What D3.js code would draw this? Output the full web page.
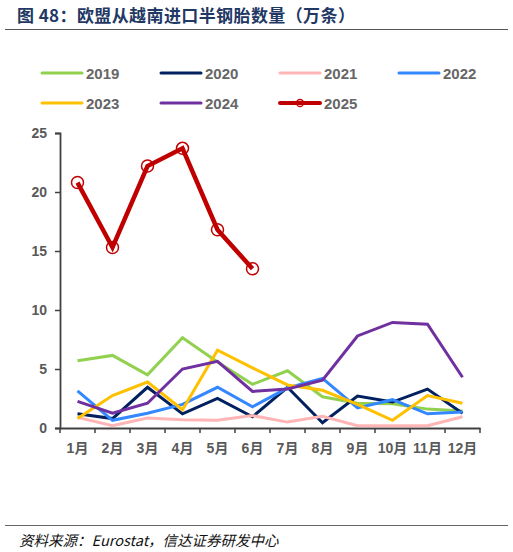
<!DOCTYPE html>
<html>
<head>
<meta charset="utf-8">
<script src="https://cdn.jsdelivr.net/npm/d3@7"></script>
<style>
  body { margin: 0; background: #fff; }
  svg { display: block; font-family: "Liberation Sans", Arial, "Noto Sans CJK SC", sans-serif; }
</style>
</head>
<body>
<svg id="chart" width="513" height="552"></svg>
<script>
// Months and series (万条)
const months = ["1月", "2月", "3月", "4月", "5月", "6月", "7月", "8月", "9月", "10月", "11月", "12月"];
const yTicks = [0, 5, 10, 15, 20, 25];

const s2019 = [5.7, 6.15, 4.5, 7.65, 5.6, 3.7, 4.85, 2.65, 2.1, 2.05, 1.6, 1.45];
const s2020 = [1.2, 0.8, 3.45, 1.2, 2.5, 0.95, 3.45, 0.45, 2.7, 2.2, 3.3, 1.25];
const s2021 = [0.9, 0.2, 0.85, 0.7, 0.65, 1.05, 0.5, 1.0, 0.2, 0.2, 0.2, 0.95];
const s2022 = [3.15, 0.65, 1.25, 2.0, 3.45, 1.8, 3.4, 4.2, 1.7, 2.4, 1.2, 1.35];
const s2023 = [0.8, 2.75, 3.9, 1.55, 6.6, 5.1, 3.65, 3.2, 2.0, 0.65, 2.75, 2.1];
const s2024 = [2.25, 1.25, 2.1, 5.0, 5.65, 3.1, 3.3, 4.05, 7.8, 8.95, 8.8, 4.3];
const s2025 = [20.8, 15.3, 22.2, 23.7, 16.8, 13.5];

const seriesNames = ["2019", "2020", "2021", "2022", "2023", "2024", "2025"];
const seriesValues = [s2019, s2020, s2021, s2022, s2023, s2024, s2025];
const seriesColors = ["#92D050", "#002060", "#FFB5B5", "#3388FF", "#FFC000", "#7030A0", "#C00000"];

const svg = d3.select("#chart");
const margin = { top: 133, right: 33, bottom: 124, left: 60 };
const width = 513 - margin.left - margin.right;
const height = 552 - margin.top - margin.bottom;

// Title and rules
svg.append("text")
    .attr("x", 17)
    .attr("y", 22)
    .style("font-family", "'Noto Sans CJK SC', sans-serif")
    .style("font-size", "17px")
    .style("font-weight", "bold")
    .style("letter-spacing", "0.4px")
    .style("fill", "#1F3864")
    .text("图 48：欧盟从越南进口半钢胎数量（万条）");

svg.append("line")
    .attr("x1", 5).attr("x2", 508)
    .attr("y1", 29.5).attr("y2", 29.5)
    .attr("stroke", "#555").attr("stroke-width", 1.2);

svg.append("line")
    .attr("x1", 5).attr("x2", 508)
    .attr("y1", 525.5).attr("y2", 525.5)
    .attr("stroke", "#666").attr("stroke-width", 1.2);

svg.append("text")
    .attr("x", 19)
    .attr("y", 546)
    .style("font-family", "'Noto Sans CJK SC', sans-serif")
    .style("font-size", "14.5px")
    .style("font-style", "italic")
    .style("fill", "#111")
    .text("资料来源：Eurostat，信达证券研发中心");

// Legend
const legend = svg.append("g");
seriesNames.forEach((name, i) => {
    const col = i % 4;
    const row = Math.floor(i / 4);
    const lx = 42 + col * 119;
    const ly = 73 + row * 30;
    const g = legend.append("g").attr("transform", `translate(${lx},${ly})`);
    g.append("line")
        .attr("x1", 0).attr("x2", 40)
        .attr("y1", 0).attr("y2", 0)
        .attr("stroke", seriesColors[i])
        .attr("stroke-width", name === "2025" ? 4 : 3)
        .attr("stroke-linecap", "round");
    if (name === "2025") {
        g.append("circle")
            .attr("cx", 20).attr("cy", 0).attr("r", 3.5)
            .attr("fill", "none")
            .attr("stroke", seriesColors[i])
            .attr("stroke-width", 1.3);
    }
    g.append("text")
        .attr("x", 44)
        .attr("y", 5.5)
        .style("font-size", "15px")
        .style("font-weight", "bold")
        .style("fill", "#666")
        .text(name);
});

const plot = svg.append("g")
    .attr("transform", `translate(${margin.left},${margin.top})`);

const x = d3.scaleBand()
    .domain(months)
    .range([0, width])
    .padding(0);

const y = d3.scaleLinear()
    .domain([0, 25])
    .range([height, 0]);

// Y axis
const yAxis = plot.append("g")
    .call(d3.axisLeft(y).tickValues(yTicks).tickSize(5).tickPadding(8));
yAxis.select(".domain").attr("stroke", "#404040").attr("stroke-width", 1.8);
yAxis.selectAll(".tick line").attr("stroke", "#404040").attr("stroke-width", 1.5);
yAxis.selectAll("text")
    .style("font-size", "14px")
    .style("font-weight", "bold")
    .style("fill", "#595959");

// X axis with ticks at band boundaries
const xAxis = plot.append("g")
    .attr("transform", `translate(0,${height})`)
    .call(d3.axisBottom(x).tickSize(0).tickPadding(15));
xAxis.select(".domain").attr("stroke", "#404040").attr("stroke-width", 1.8);
xAxis.selectAll("text")
    .style("font-family", "'Liberation Sans', 'Noto Sans CJK SC', sans-serif")
    .style("font-size", "14px")
    .style("font-weight", "bold")
    .style("fill", "#595959");
xAxis.selectAll(".bound")
    .data(months.concat(["end"]))
    .enter().append("line")
    .attr("class", "bound")
    .attr("x1", (d, i) => i < months.length ? x(d) : width)
    .attr("x2", (d, i) => i < months.length ? x(d) : width)
    .attr("y1", 0).attr("y2", 5)
    .attr("stroke", "#404040").attr("stroke-width", 1.5);

// Lines
const line = d3.line()
    .x((d, i) => x(months[i]) + x.bandwidth() / 2)
    .y(d => y(d));

seriesValues.forEach((vals, i) => {
    const is2025 = seriesNames[i] === "2025";
    plot.append("path")
        .datum(vals)
        .attr("fill", "none")
        .attr("stroke", seriesColors[i])
        .attr("stroke-width", is2025 ? 4.5 : 3)
        .attr("stroke-linejoin", "miter")
        .attr("d", line);
});

// 2025 markers
plot.selectAll(".m2025")
    .data(s2025)
    .enter().append("circle")
    .attr("class", "m2025")
    .attr("cx", (d, i) => x(months[i]) + x.bandwidth() / 2)
    .attr("cy", d => y(d))
    .attr("r", 6)
    .attr("fill", "none")
    .attr("stroke", "#C00000")
    .attr("stroke-width", 1.5);
</script>
</body>
</html>
